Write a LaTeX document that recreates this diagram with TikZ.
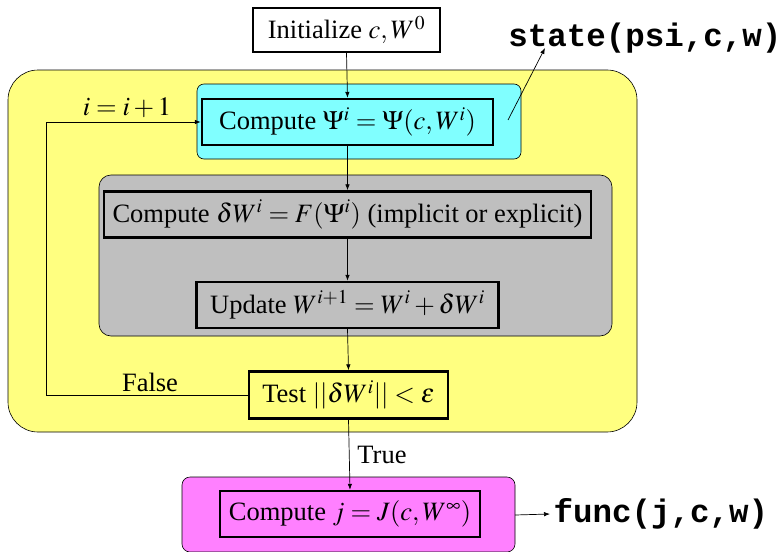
\documentclass[tikz,border=0pt]{standalone}
\usepackage{mathptmx}
\usepackage[no-math]{fontspec}
\setmainfont{Liberation Serif}
\setmonofont{Liberation Mono}
\usetikzlibrary{arrows.meta}
\definecolor{yel}{HTML}{FFFF80}
\definecolor{cya}{HTML}{80FFFF}
\definecolor{gra}{HTML}{BFBFBF}
\definecolor{mag}{HTML}{FF80FF}
\begin{document}
\begin{tikzpicture}[x=1pt,y=-1pt,
  txt/.style={font=\fontsize{26.5}{30}\selectfont},
  stepbox/.style={draw, line width=2.4pt, inner sep=0pt, txt},
  panel/.style={draw, line width=0.6pt},
  conn/.style={line width=0.7pt, -{Latex[length=6pt,width=4.5pt]}},
  code/.style={font=\fontsize{32.5}{36}\selectfont\ttfamily\bfseries}]
\useasboundingbox (0,0) rectangle (783,551);
% panels
\draw[panel, fill=yel, rounded corners=30pt] (8,70) rectangle (637,432);
\draw[panel, fill=cya, rounded corners=7pt] (197,84) rectangle (521,159);
\draw[panel, fill=gra, rounded corners=12pt] (99,175) rectangle (612,336);
\draw[panel, fill=mag, rounded corners=8pt] (182,477) rectangle (515,552);
\coordinate (magE) at (515,515);
% boxes
\node[stepbox, fill=white, minimum width=187pt, minimum height=44pt] (init) at (346.5,30) {Initialize $c,W^0$};
\node[stepbox, minimum width=291pt, minimum height=46pt] (psi) at (347.5,122) {Compute $\Psi^i=\Psi(c,W^i)$};
\node[stepbox, minimum width=487pt, minimum height=46pt] (dw) at (347.5,214.5) {Compute $\delta W^i=F(\Psi^i)$ (implicit or explicit)};
\node[stepbox, minimum width=302pt, minimum height=46pt] (upd) at (347.5,305) {Update $W^{i+1}=W^i+\delta W^i$};
\node[stepbox, minimum width=199pt, minimum height=47pt] (test) at (348.5,395) {Test $||\delta W^i||<\varepsilon$};
\node[stepbox, minimum width=260pt, minimum height=46pt] (jbox) at (350,514) {Compute $j=J(c,W^\infty)$};
% connectors
\draw[conn] (init.south) -- (psi.north);
\draw[conn] (psi.south) -- (dw.north);
\draw[conn] (dw.south) -- (upd.north);
\draw[conn] (upd.south) -- (test.north);
\draw[conn] (test.south) -- (jbox.north);
\coordinate (loopc) at (46,395);
\draw[conn] (test.west) -- (loopc) |- (psi.west);
\node[txt] (inc) at (127,108) {$i=i+1$};
\node[txt] (false) at (150,382) {False};
\node[txt] (true) at (382,455) {True};
% code labels
\node[code] (state) at (645,38) {state(psi,c,w)};
\coordinate (stS) at (508,120);
\draw[conn] (stS) -- (545,48);
\node[code, anchor=west] (func) at (550,514) {func(j,c,w)};
\draw[conn] (magE) -- (func.west);
\end{tikzpicture}
\end{document}
